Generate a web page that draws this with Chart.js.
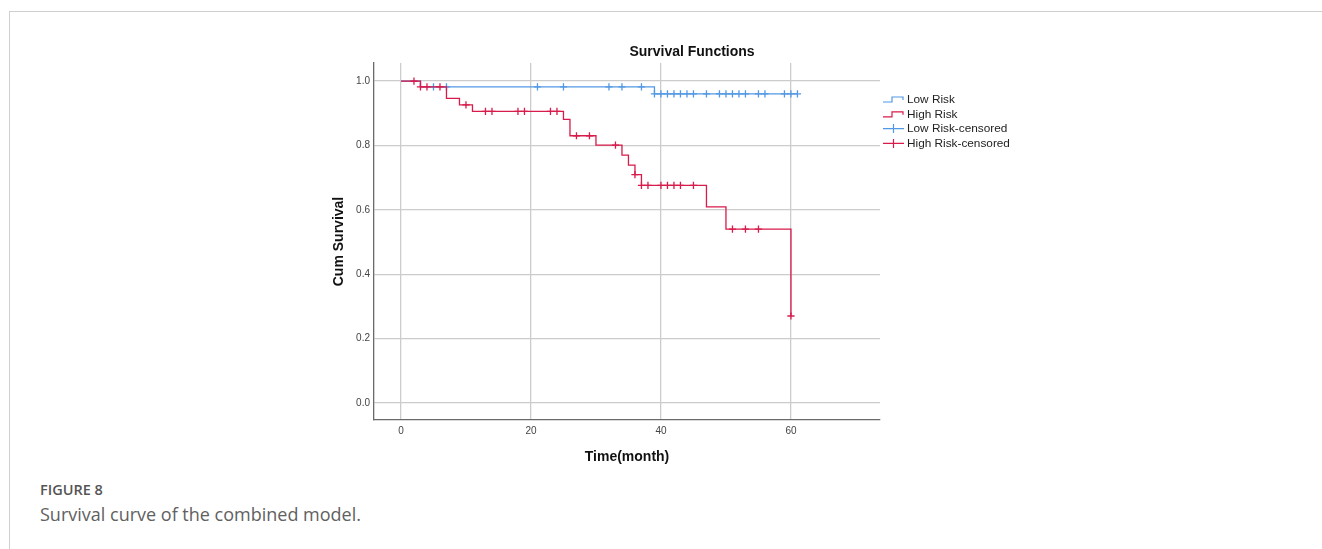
<!DOCTYPE html>
<html>
<head>
<meta charset="utf-8">
<title>Survival Functions</title>
<script src="https://cdn.jsdelivr.net/npm/chart.js@4"></script>
<style>
  body { margin: 0; width: 1322px; height: 549px; background: #fff; position: relative; overflow: hidden; }
  .frame { position: absolute; left: 9px; top: 11px; right: 0; bottom: 0; border-left: 1px solid #cfcfcf; border-top: 1px solid #cfcfcf; }
  #wrap { position: absolute; left: 320px; top: 40px; width: 744px; height: 440px; }
  .fig-label { position: absolute; left: 40px; top: 480px; font: 600 14.5px "Open Sans", sans-serif; color: #555; }
  .fig-caption { position: absolute; left: 40px; top: 502px; font: 18px "Open Sans", sans-serif; color: #616161; }
</style>
</head>
<body>
<div class="frame"></div>
<div id="wrap"><canvas id="survChart"></canvas></div>
<div class="fig-label">FIGURE 8</div>
<div class="fig-caption">Survival curve of the combined model.</div>

<script>
const FONT = '"Liberation Sans", Arial, sans-serif';

// Kaplan-Meier steps: time (months) and survival after the step
const lowTimes = [0, 3, 39, 61];
const lowSurv = [1, 0.982, 0.960, 0.960];
const highTimes = [0, 3, 7, 9, 11, 25, 26, 30, 34, 35, 36, 37, 47, 50, 60];
const highSurv = [1, 0.982, 0.946, 0.926, 0.906, 0.881, 0.830, 0.801, 0.770, 0.739, 0.709, 0.676, 0.609, 0.540, 0.270];

// censored times
const lowCensored = [5, 7, 21, 25, 32, 34, 37, 39, 40, 41, 42, 43, 44, 45, 47, 49, 50, 51, 52, 53, 55, 56, 59, 60, 61];
const highCensored = [2, 3, 4, 6, 10, 13, 14, 18, 19, 23, 24, 27, 29, 33, 36, 37, 38, 40, 41, 42, 43, 45, 51, 53, 55, 60];

const xTicks = [0, 20, 40, 60];
const yTicks = [0, 0.2, 0.4, 0.6, 0.8, 1.0];

const blue = '#5398e4';
const red = '#d81b4a';

function curve(times, surv) {
    return times.map((t, i) => ({ x: t, y: surv[i] }));
}

// survival level at time t, so the censor mark sits on the curve
function levelAt(times, surv, t) {
    let s = surv[0];
    for (let i = 0; i < times.length; i++) {
        if (times[i] <= t) s = surv[i];
    }
    return s;
}

function marks(censored, times, surv) {
    return censored.map(t => ({ x: t, y: levelAt(times, surv, t) }));
}

// title and legend drawn next to the plot
const sideText = {
    id: 'sideText',
    afterDraw(chart) {
        const ctx = chart.ctx;
        const area = chart.chartArea;
        ctx.save();
        ctx.fillStyle = '#111';
        ctx.font = 'bold 14px ' + FONT;
        ctx.textAlign = 'center';
        ctx.textBaseline = 'middle';
        ctx.fillText('Survival Functions', chart.width / 2, 12.5);

        const x0 = area.right + 3;
        ctx.font = '11.8px ' + FONT;
        ctx.textAlign = 'left';
        chart.data.datasets.forEach((ds, i) => {
            const y = area.top + 36 + i * 14.8;
            ctx.strokeStyle = ds.borderColor;
            ctx.lineWidth = 1.2;
            ctx.beginPath();
            if (ds.showLine === false) {
                ctx.moveTo(x0, y);
                ctx.lineTo(x0 + 21, y);
                ctx.moveTo(x0 + 10.5, y - 4.5);
                ctx.lineTo(x0 + 10.5, y + 4.5);
            } else {
                ctx.moveTo(x0, y + 3);
                ctx.lineTo(x0 + 9, y + 3);
                ctx.lineTo(x0 + 9, y - 2);
                ctx.lineTo(x0 + 20, y - 2);
                ctx.lineTo(x0 + 20, y + 1);
            }
            ctx.stroke();
            ctx.fillStyle = '#222';
            ctx.fillText(ds.label, x0 + 24, y + 0.5);
        });
        ctx.restore();
    }
};

new Chart(document.getElementById('survChart'), {
    type: 'line',
    data: {
        datasets: [
            {
                label: 'Low Risk',
                data: curve(lowTimes, lowSurv),
                borderColor: blue,
                borderWidth: 1.3,
                stepped: 'before',
                pointRadius: 0,
                order: 4
            },
            {
                label: 'High Risk',
                data: curve(highTimes, highSurv),
                borderColor: red,
                borderWidth: 1.3,
                stepped: 'before',
                pointRadius: 0,
                order: 2
            },
            {
                label: 'Low Risk-censored',
                data: marks(lowCensored, lowTimes, lowSurv),
                borderColor: blue,
                showLine: false,
                pointStyle: 'cross',
                pointRadius: 3.6,
                pointBorderWidth: 1.3,
                pointBorderColor: blue,
                order: 3
            },
            {
                label: 'High Risk-censored',
                data: marks(highCensored, highTimes, highSurv),
                borderColor: red,
                showLine: false,
                pointStyle: 'cross',
                pointRadius: 3.6,
                pointBorderWidth: 1.3,
                pointBorderColor: red,
                order: 1
            }
        ]
    },
    options: {
        responsive: true,
        maintainAspectRatio: false,
        animation: false,
        layout: { padding: { top: 23, right: 184, left: 0, bottom: 0 } },
        plugins: {
            legend: { display: false },
            title: { display: false },
            tooltip: { enabled: false }
        },
        scales: {
            x: {
                type: 'linear',
                min: -4.15,
                max: 73.7,
                afterBuildTicks: s => { s.ticks = xTicks.map(v => ({ value: v })); },
                afterFit: s => { s.height = 60; },
                grid: { color: '#cccccc', lineWidth: 1.3, drawTicks: false },
                border: { color: '#6a6a6a', width: 1.3 },
                ticks: { padding: 5, color: '#444', font: { size: 10, family: FONT }, callback: v => String(v) },
                title: {
                    display: true,
                    text: 'Time(month)',
                    color: '#111',
                    font: { size: 14, weight: 'bold', family: FONT },
                    padding: { top: 0, bottom: 14.6 }
                }
            },
            y: {
                type: 'linear',
                min: -0.053,
                max: 1.056,
                afterBuildTicks: s => { s.ticks = yTicks.map(v => ({ value: v })); },
                afterFit: s => { s.width = 54; },
                grid: { color: '#cccccc', lineWidth: 1.3, drawTicks: false },
                border: { color: '#6a6a6a', width: 1.3 },
                ticks: { padding: 4, color: '#444', font: { size: 10, family: FONT }, callback: v => v.toFixed(1) },
                title: {
                    display: true,
                    text: 'Cum Survival',
                    color: '#111',
                    font: { size: 14, weight: 'bold', family: FONT },
                    padding: { top: 10.6, bottom: 0 }
                }
            }
        }
    },
    plugins: [sideText]
});
</script>
</body>
</html>
